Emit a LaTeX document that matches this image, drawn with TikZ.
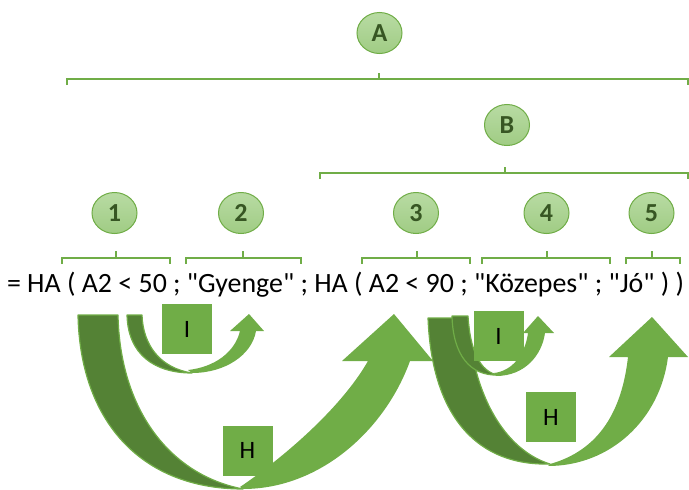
\documentclass[tikz,border=0pt]{standalone}
\usepackage{fontspec}
\setmainfont{Carlito}[Ligatures=TeXOff]
\usetikzlibrary{shapes.geometric}
\definecolor{gmain}{RGB}{112,173,71}
\definecolor{gdark}{RGB}{84,130,53}
\definecolor{gtxt}{RGB}{55,86,35}
\definecolor{gtop}{RGB}{184,219,163}
\definecolor{gbot}{RGB}{160,204,132}
\tikzset{
  badge/.style={ellipse, minimum width=45pt, minimum height=41pt, inner sep=0pt,
    draw=gmain, line width=1pt, top color=gtop, bottom color=gbot, text=gtxt,
    font=\fontsize{26}{26}\selectfont\bfseries},
  brace/.style={draw=gmain, line width=2.2pt},
  lbl/.style={fill=gmain, minimum width=50pt, minimum height=50pt, inner sep=0pt,
    font=\fontsize{25}{25}\selectfont},
  backband/.style={fill=gdark, draw=gmain, line width=1.2pt, line join=round},
  frontband/.style={fill=gmain, draw=none},
}
\begin{document}
\begin{tikzpicture}[x=1pt,y=-1pt]
\useasboundingbox (0,0) rectangle (689,490);

% badges
\node[badge] (cA) at (379.5,33) {A};
\node[badge] (cB) at (507,125) {B};
\node[badge] (c1) at (114.5,213) {1};
\node[badge] (c2) at (241,213) {2};
\node[badge] (c3) at (416,213) {3};
\node[badge] (c4) at (546.5,213) {4};
\node[badge] (c5) at (651.5,213) {5};

% brackets
\draw[brace] (67,85) -- (67,79) -- (688,79) -- (688,85) (379,79) -- (379,73);
\draw[brace] (320,179) -- (320,173) -- (688,173) -- (688,179) (505,173) -- (505,167);
\draw[brace] (62,264) -- (62,258) -- (170,258) -- (170,264) (116,258) -- (116,251);
\draw[brace] (186,264) -- (186,258) -- (301,258) -- (301,264) (243,258) -- (243,251);
\draw[brace] (362,264) -- (362,258) -- (470,258) -- (470,264) (417,258) -- (417,251);
\draw[brace] (482,264) -- (482,258) -- (610,258) -- (610,264) (547,258) -- (547,251);
\draw[brace] (626,264) -- (626,258) -- (680,258) -- (680,264) (652,258) -- (652,251);

% formula
\node[anchor=base, inner sep=0pt, font=\fontsize{27.9}{30}\selectfont] (formula) at (345.5,292)
  {= HA ( A2 < 50 ; "Gyenge" ; HA ( A2 < 90 ; "Közepes" ; "Jó" ) )};

% left big arrow
\fill[backband] (78,315) -- (118,315) .. controls (120,410) and (170,475) .. (243,489)
  .. controls (140,489) and (80,420) .. (78,315) -- cycle;
\fill[frontband] (243,489) .. controls (320,489) and (385,430) .. (410,361)
  -- (433,361) -- (394,314) -- (342,361) -- (368,361)
  .. controls (340,410) and (280,460) .. (240,487) -- cycle;
% left small arrow
\fill[backband] (127,315) -- (142,315) .. controls (143,345) and (160,368) .. (192,373)
  .. controls (155,373) and (128,355) .. (127,315) -- cycle;
\fill[frontband] (192,373) .. controls (225,373) and (252,355) .. (256,331)
  -- (264,331) -- (249,314) -- (230,331) -- (240,331)
  .. controls (235,352) and (215,367) .. (188,370) -- cycle;
\node[lbl] (iL) at (187,329) {I};
\node[lbl] (hL) at (247.5,450.5) {H};

% right big arrow
\fill[backband] (428,318) -- (468,318) .. controls (472,395) and (505,450) .. (550,464)
  .. controls (480,466) and (432,420) .. (428,318) -- cycle;
\fill[frontband] (548,466) .. controls (610,466) and (660,420) .. (668,357)
  -- (688,357) -- (652,317) -- (609,357) -- (628,357)
  .. controls (622,410) and (600,450) .. (550,464) -- cycle;
% right small arrow
\fill[backband] (452,316) -- (468,316) .. controls (470,350) and (480,372) .. (498,375)
  .. controls (470,376) and (453,355) .. (452,316) -- cycle;
\fill[frontband] (496,376) .. controls (525,376) and (542,355) .. (545,333)
  -- (554,333) -- (538,316) -- (523,333) -- (528,333)
  .. controls (525,355) and (512,371) .. (494,373) -- cycle;
\node[lbl] (iR) at (498.5,336) {I};
\node[lbl] (hR) at (551,417) {H};
\end{tikzpicture}
\end{document}
